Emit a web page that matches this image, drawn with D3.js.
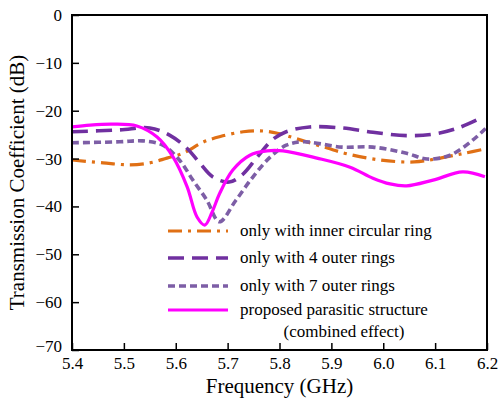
<!DOCTYPE html>
<html><head>
<meta charset="utf-8">
<script src="https://d3js.org/d3.v7.min.js"></script>
<style>
  body { margin: 0; background: #fff; }
</style>
</head>
<body>
<svg id="chart" width="504" height="400"></svg>
<script>
// frequency (GHz) and transmission (dB) for each curve
const innerFreq = [5.400, 5.460, 5.510, 5.550, 5.583, 5.614, 5.652, 5.686, 5.730, 5.763, 5.796, 5.840, 5.892, 5.930, 5.994, 6.060, 6.110, 6.156, 6.196];
const innerDb   = [-30.3, -30.9, -31.3, -30.9, -29.9, -28.9, -26.6, -25.4, -24.4, -24.2, -24.7, -26.1, -27.8, -29.0, -30.3, -30.7, -29.9, -28.9, -28.0];

const fourFreq = [5.400, 5.492, 5.550, 5.588, 5.621, 5.646, 5.671, 5.703, 5.728, 5.757, 5.786, 5.813, 5.858, 5.920, 5.980, 6.045, 6.096, 6.142, 6.192];
const fourDb   = [-24.4, -24.0, -23.6, -25.1, -27.8, -30.9, -33.8, -34.9, -33.4, -29.7, -26.1, -24.4, -23.4, -23.6, -24.5, -25.2, -24.9, -23.7, -21.3];

const sevenFreq = [5.400, 5.492, 5.536, 5.575, 5.607, 5.633, 5.660, 5.684, 5.716, 5.749, 5.782, 5.813, 5.846, 5.920, 5.980, 6.045, 6.085, 6.129, 6.173, 6.200];
const sevenDb   = [-26.7, -26.5, -26.3, -27.2, -30.3, -34.5, -38.7, -43.2, -38.7, -33.8, -29.7, -27.2, -26.5, -27.6, -27.6, -28.9, -30.1, -29.3, -26.1, -23.4];

const propFreq = [5.400, 5.435, 5.479, 5.525, 5.564, 5.595, 5.622, 5.641, 5.656, 5.670, 5.685, 5.710, 5.743, 5.776, 5.807, 5.872, 5.936, 5.980, 6.013, 6.045, 6.096, 6.153, 6.196];
const propDb   = [-23.4, -23.0, -22.8, -23.2, -25.5, -29.7, -35.9, -42.2, -43.9, -41.2, -37.2, -32.4, -29.3, -28.4, -28.4, -29.9, -31.8, -34.1, -35.3, -35.7, -34.5, -32.8, -33.8];

const seriesNames = ["only with inner circular ring", "only with 4 outer rings", "only with 7 outer rings", "proposed parasitic structure"];
const xTicks = [5.4, 5.5, 5.6, 5.7, 5.8, 5.9, 6.0, 6.1, 6.2];
const yTicks = [0, -10, -20, -30, -40, -50, -60, -70];

const svg = d3.select("#chart");
const mLeft = 72, mRight = 487, mTop = 15, mBottom = 350;

const x = d3.scaleLinear().domain([5.4, 6.2]).range([mLeft, mRight]);
const y = d3.scaleLinear().domain([-70, 0]).range([mBottom, mTop]);

// series styles: colour, dash, width
const series = [
  { name: seriesNames[0], f: innerFreq, v: innerDb, color: "#e07015", dash: "14,6,3,6", w: 3.2 },
  { name: seriesNames[1], f: fourFreq,  v: fourDb,  color: "#7030a0", dash: "16,8",     w: 3.6 },
  { name: seriesNames[2], f: sevenFreq, v: sevenDb, color: "#7d5ea6", dash: "7,4",      w: 3.6 },
  { name: seriesNames[3], f: propFreq,  v: propDb,  color: "#ff00ff", dash: null,       w: 3.2 }
];

const line = d3.line()
  .x(d => x(d[0])).y(d => y(d[1]))
  .curve(d3.curveCatmullRom.alpha(0.5));

const plot = svg.append("g");
plot.append("clipPath").attr("id", "clip")
  .append("rect").attr("x", mLeft).attr("y", mTop).attr("width", mRight - mLeft).attr("height", mBottom - mTop);

series.forEach(s => {
  plot.append("path")
    .datum(s.f.map((f, i) => [f, s.v[i]]))
    .attr("clip-path", "url(#clip)")
    .attr("fill", "none")
    .attr("stroke", s.color)
    .attr("stroke-width", s.w)
    .attr("stroke-dasharray", s.dash)
    .attr("d", line);
});

// axes, ticks pointing inward
const xAxis = svg.append("g").attr("transform", "translate(0," + mBottom + ")")
  .call(d3.axisBottom(x).tickValues(xTicks).tickFormat(d3.format(".1f")).tickSizeInner(-7).tickSizeOuter(0).tickPadding(4));
xAxis.selectAll(".tick text").attr("dy", "0.9em");

const yAxis = svg.append("g").attr("transform", "translate(" + mLeft + ",0)")
  .call(d3.axisLeft(y).tickValues(yTicks).tickFormat(d3.format("d")).tickSizeInner(-7).tickSizeOuter(0).tickPadding(10));
yAxis.selectAll(".tick text").attr("dy", d => d === -70 ? "0.1em" : "0.32em");

xAxis.attr("font-family", null);
yAxis.attr("font-family", null);
svg.selectAll(".domain").remove();
svg.selectAll(".tick line").attr("stroke", "#000").attr("stroke-width", 1.5);
svg.selectAll(".tick text").style("font-size", "17px").attr("fill", "#000");

svg.append("rect")
  .attr("x", mLeft).attr("y", mTop).attr("width", mRight - mLeft).attr("height", mBottom - mTop)
  .attr("fill", "none").attr("stroke", "#000").attr("stroke-width", 2);

// axis titles
svg.append("text")
  .attr("x", (mLeft + mRight) / 2).attr("y", 393)
  .attr("text-anchor", "middle").style("font-size", "21px")
  .text("Frequency (GHz)");

svg.append("text")
  .attr("transform", "translate(24," + ((mTop + mBottom) / 2) + ") rotate(-90)")
  .attr("text-anchor", "middle").style("font-size", "21px")
  .text("Transmission Coefficient (dB)");

// legend
const legRows = [231, 258, 286, 310];
series.forEach((s, i) => {
  svg.append("line")
    .attr("x1", 168).attr("x2", 228).attr("y1", legRows[i]).attr("y2", legRows[i])
    .attr("stroke", s.color).attr("stroke-width", s.w)
    .attr("stroke-dasharray", s.dash);
  svg.append("text")
    .attr("x", 240).attr("y", legRows[i] + 5)
    .style("font-size", "17px")
    .text(s.name);
});
svg.append("text")
  .attr("x", 344).attr("y", 337)
  .attr("text-anchor", "middle")
  .style("font-size", "17px")
  .text("(combined effect)");

svg.selectAll("text").style("font-family", "Liberation Serif");
</script>
</body>
</html>
